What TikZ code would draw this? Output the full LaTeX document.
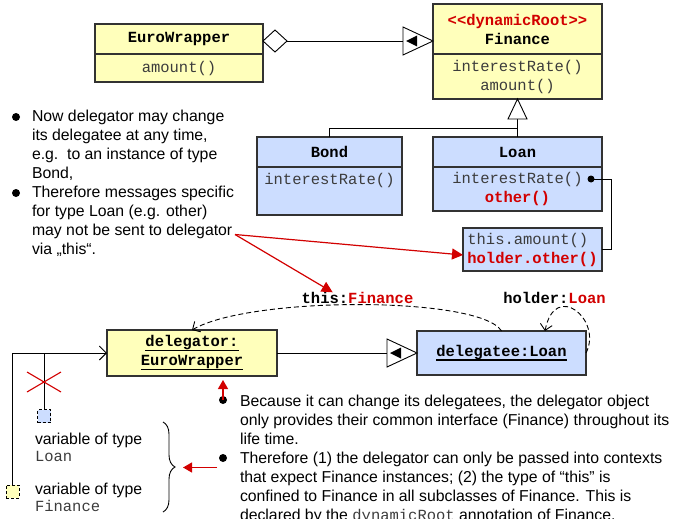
\documentclass[tikz,border=0pt]{standalone}
\usepackage{fontspec}
\setmainfont{Liberation Sans}
\newfontfamily\cour{Liberation Mono}
\usetikzlibrary{shapes.geometric,arrows.meta,calc,decorations.pathreplacing}
\definecolor{cyel}{RGB}{255,255,187}
\definecolor{cblue}{RGB}{204,221,255}
\definecolor{cred}{RGB}{210,0,0}
\definecolor{cgray}{RGB}{60,60,60}
\definecolor{cborder}{RGB}{50,50,50}
\newcommand\myul[1]{\setbox0\hbox{#1}\rlap{\rule[-4.5pt]{\wd0}{1.5pt}}\box0}
\tikzset{delegtri/.pic={
  \draw[line width=0.9pt, fill=white] (0,0) -- (-30,-14) -- (-30,14) -- cycle;
  \fill (-27,0) -- (-16,-5.5) -- (-16,5.5) -- cycle;}}
\begin{document}
\begin{tikzpicture}[x=1pt,y=-1pt,
  every node/.style={inner sep=0pt, outer sep=0pt},
  umlbox/.style={draw=cborder, line width=1.1pt, rectangle, font=\cour\fontsize{15.5}{19}\selectfont, align=center},
  ybox/.style={umlbox, fill=cyel},
  bbox/.style={umlbox, fill=cblue},
  ttl/.style={font=\cour\bfseries\fontsize{15.5}{19}\selectfont},
  meth/.style={text=cgray},
  txt/.style={font=\fontsize{15.8}{19}\selectfont, align=left, anchor=base west},
  bul/.style={circle, fill=black, minimum size=8pt},
  redarr/.style={draw=cred, line width=1.2pt, -{Triangle[length=11pt,width=11pt]}},
  redarrs/.style={draw=cred, line width=1.2pt, -{Triangle[length=9pt,width=10pt]}},
  conn/.style={draw=black, line width=0.9pt},
  dsh/.style={conn, dash pattern=on 5pt off 3pt},
  varbox/.style={draw=black, dash pattern=on 3pt off 2pt, minimum size=13pt, line width=1pt},
]
\useasboundingbox (0,0) rectangle (686,519);

% class diagram
\node[ybox, ttl, minimum width=168, minimum height=30] (euroT) at (179,39) {EuroWrapper};
\node[ybox, meth, minimum width=168, minimum height=28] (euroM) at (179,68) {amount()};

\node[ybox, ttl, minimum width=169, minimum height=50] (finT) at (517.5,29) {\textcolor{cred}{<{}<dynamicRoot>{}>}\\Finance};
\node[ybox, meth, minimum width=169, minimum height=45] (finM) at (517.5,76.5) {interestRate()\\amount()};

\node[bbox, ttl, minimum width=145, minimum height=30] (bondT) at (329.5,152) {Bond};
\node[bbox, minimum width=145, minimum height=48] (bondM) at (329.5,191) {};
\node[umlbox, draw=none, meth] (bondop) at (329.5,180) {interestRate()};

\node[bbox, ttl, minimum width=169, minimum height=30] (loanT) at (517.5,152) {Loan};
\node[bbox, meth, minimum width=169, minimum height=44] (loanM) at (517.5,189) {interestRate()\\\textcolor{cred}{\bfseries other()}};

\node[bbox, meth, align=left, minimum width=139, minimum height=43] (code) at (532.5,249.5) {this.amount()\\\textcolor{cred}{\bfseries holder.other()}};

\node[bul, minimum size=7pt] (dot) at (591,179) {};
\coordinate (bend) at (611,179);
\draw[conn] (dot.center) -- (bend) |- (code.east);

% aggregation / delegation
\node[diamond, draw=black, fill=white, line width=0.9pt, minimum width=24pt, minimum height=22pt] (dia) at (275,41) {};
\coordinate (tip1) at (finT.west |- dia.east);
\draw[conn] (dia.east) -- ($(tip1)+(-30,0)$);
\pic at (tip1) {delegtri};

% inheritance
\coordinate (inhb) at ($(finM.south)+(0,20)$);
\coordinate (junc) at ($(loanT.north)+(0,-9)$);
\draw[conn] (inhb) -- (loanT.north);
\draw[conn] (junc) -| (bondT.north);
\draw[conn, fill=white] (finM.south) -- ($(finM.south)+(9.5,20)$) -- ($(finM.south)+(-9.5,20)$) -- cycle;

% left text
\node[bul] (b1) at (16,117) {};
\node[bul] (b2) at (16,193) {};
\node[txt] (lt1) at (32,178.7) {Now delegator may change\\its delegatee at any time,\\e.g.\ \ to an instance of type\\Bond,};
\node[txt] (lt2) at (32,254.7) {Therefore messages specific\\for type Loan (e.g. other)\\may not be sent to delegator\\via „this“.};

% object diagram
\node[ttl] (thisl) at (357.5,298) {this:\textcolor{cred}{Finance}};
\node[ttl] (holdl) at (554.5,298) {holder:\textcolor{cred}{Loan}};

\node[ybox, ttl, minimum width=170, minimum height=46] (dgr) at (192,353) {\myul{delegator:}\\\myul{EuroWrapper}};
\node[bbox, ttl, minimum width=169, minimum height=44] (dge) at (501.5,353) {\myul{delegatee:Loan}};

\draw[conn] (dgr.east) -- ($(dge.west)+(-30,0)$);
\pic at (dge.west) {delegtri};

\draw[dsh, -{Straight Barb[length=6pt,width=12pt]}] (dge.north) .. controls (480,296) and (250,296) .. (dgr.north);
\draw[dsh, -{Straight Barb[length=6pt,width=12pt]}] (dge.east) .. controls (603,320) and (555,280) .. ($(dge.north west)+(128,0)$);

% red arrows
\coordinate (rs) at (235,234.5);
\draw[redarr] (rs) -- ($(code.west)+(0,5.5)$);
\draw[redarr] (rs) -- ($(thisl.north west)+(31,0)$);

% variables
\node[varbox, fill=cblue] (vL) at (44,416) {};
\node[varbox, fill=cyel] (vF) at (12.5,491.5) {};
\draw[conn, -{Straight Barb[length=7pt,width=14pt]}] (vF.north) |- (dgr.west);
\draw[conn] (vL.north) -- (vL.north |- dgr.west);
\draw[cred, line width=1.1pt] ($(vL.north)+(-17,-37.5)$) -- ($(vL.north)+(17,-17.5)$);
\draw[cred, line width=1.1pt] ($(vL.north)+(-17,-17.5)$) -- ($(vL.north)+(17,-37.5)$);

\node[txt] (vt1) at (35,461) {variable of type\\[-2pt]{\cour\fontsize{15.5}{19}\selectfont\color{cgray}Loan}};
\node[txt] (vt2) at (35,511.3) {variable of type\\[-2pt]{\cour\fontsize{15.5}{19}\selectfont\color{cgray}Finance}};

\coordinate (brtop) at (163,422);
\coordinate (brbot) at (163,512);
\coordinate (brtip) at (175,467);
\draw[line width=0.9pt, decorate, decoration={brace, amplitude=12pt}] (brtop) -- (brbot);

% bottom text
\node[bul] (b3) at (223,400) {};
\node[bul] (b4) at (223,458) {};
\draw[redarrs] (b3.center) -- ($(b3 |- dgr.south)+(0,4)$);
\draw[redarrs] ($(brtip)+(42,0.5)$) -- ($(brtip)+(8,0.5)$);

\node[txt] (bt1) at (240,444.7) {Because it can change its delegatees, the delegator object\\only provides their common interface (Finance) throughout its\\life time.};
\node[txt] (bt2) at (240,520.7) {Therefore (1) the delegator can only be passed into contexts\\that expect Finance instances; (2) the type of “this” is\\confined to Finance in all subclasses of Finance. This is\\declared by the {\cour\fontsize{15.5}{19}\selectfont\color{cgray}dynamicRoot} annotation of Finance.};
\end{tikzpicture}
\end{document}
